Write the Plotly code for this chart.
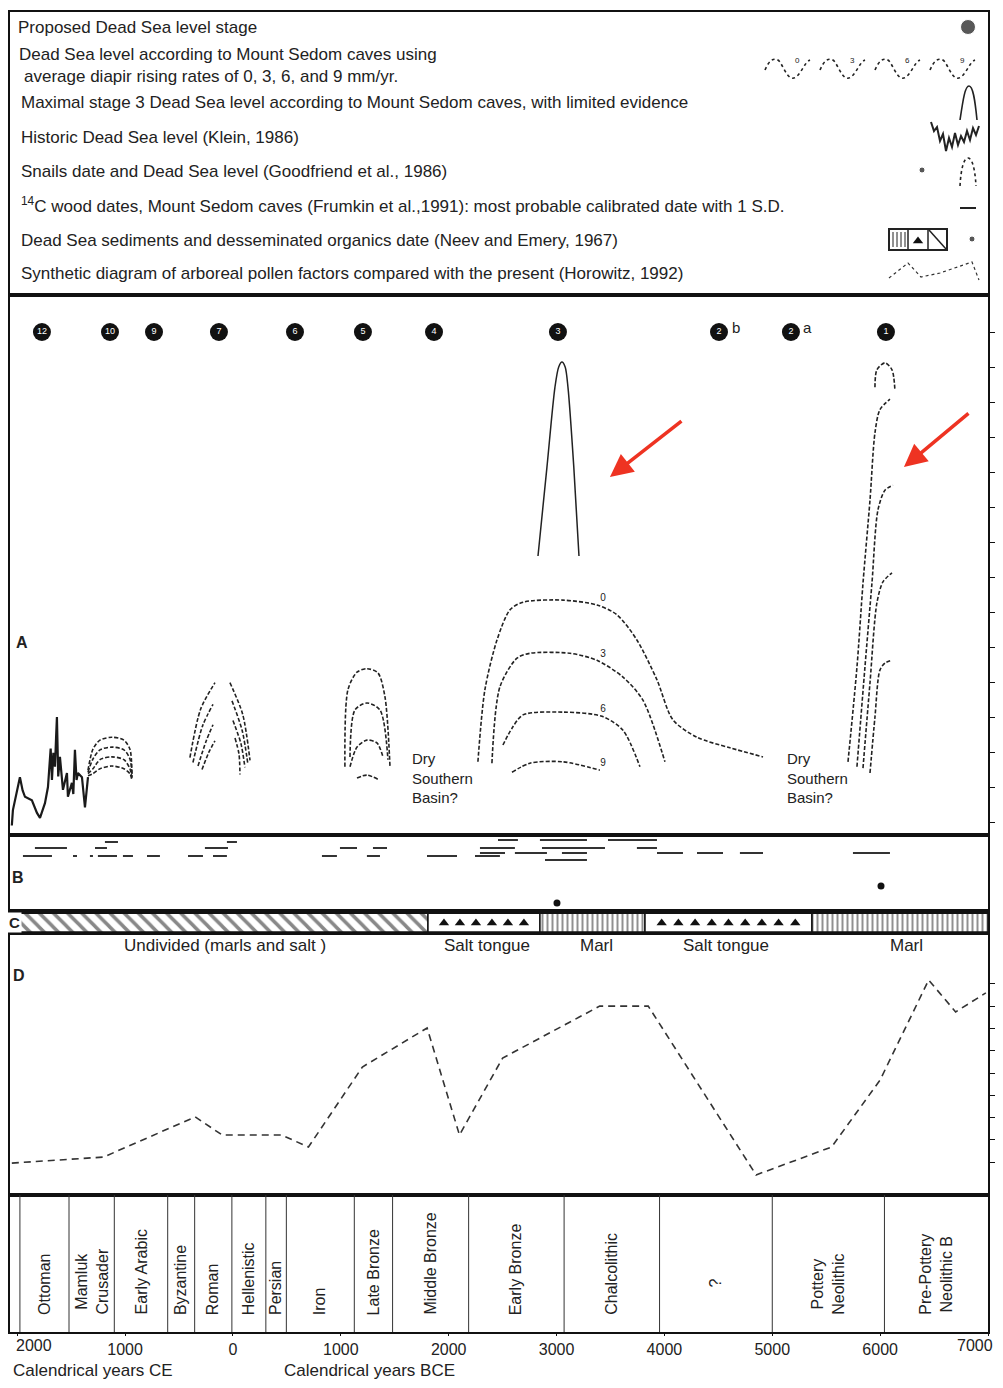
import numpy as np
import plotly.graph_objects as go

# ---------------- data (x = calendar year, BCE positive, CE negative) ----------------
X_RANGE = [-2067, 7000]
TICK_VALS = [-2000, -1000, 0, 1000, 2000, 3000, 4000, 5000, 6000, 7000]
TICK_TEXT = ["2000", "1000", "0", "1000", "2000", "3000", "4000", "5000", "6000", "7000"]

# Panel A: lake level (relative units)
STAGE_YEARS = [-1771, -1140, -732, -130, 575, 1205, 1864, 3013, 4506, 5173, 6054]
STAGE_LABELS = ["12", "10", "9", "7", "6", "5", "4", "3", "2", "2", "1"]
STAGE_SUFFIX = ["", "", "", "", "", "", "", "", "b", "a", ""]
STAGE_LEVEL = 70

HIST_YEAR = [-2050, -2040, -1975, -1950, -1928, -1864, -1817, -1789, -1743, -1715, -1690, -1678,
             -1665, -1650, -1640, -1632, -1620, -1604, -1576, -1539, -1530, -1493, -1480, -1465,
             -1450, -1437, -1400, -1372, -1344]
HIST_LEVEL = [-0.5, 1.7, 6.4, 4.5, 3.6, 3.1, 1.3, 0.6, 2.7, 5.0, 10.5, 6.0, 9.9, 7.9, 12.0, 15.0,
              6.5, 9.3, 4.6, 7.0, 3.6, 5.6, 4.0, 10.3, 6.0, 7.0, 6.4, 2.1, 6.4]

G1_YEAR = [-1344, -1298, -1233, -1122, -1011, -955, -936]
G1_LEVELS = {
    0: [7.4, 10.4, 11.7, 12.1, 11.7, 10.4, 6.7],
    3: [7.1, 9.0, 10.3, 10.7, 10.3, 9.0, 6.4],
    6: [6.9, 7.6, 8.9, 9.3, 8.9, 7.6, 6.1],
    9: [6.6, 6.9, 7.6, 8.0, 7.6, 6.9, 5.9],
}

G2_LEFT = {
    0: ([-399, -300, -167], [9.2, 16.1, 19.9]),
    3: ([-371, -280, -185], [8.5, 13.8, 16.8]),
    6: ([-324, -250, -185], [8.0, 11.5, 13.9]),
    9: ([-287, -225, -167], [7.5, 9.9, 11.6]),
}
G2_RIGHT = {
    0: ([-28, 90, 158], [19.9, 15.4, 8.8]),
    3: ([-9, 85, 139], [17.3, 13.1, 8.2]),
    6: ([0, 74, 111], [14.5, 11.2, 7.8]),
    9: ([19, 56, 65], [12.0, 9.7, 6.8]),
}

G3 = {
    0: ([1038, 1066, 1150, 1242, 1344, 1409, 1456], [7.9, 18.9, 21.4, 21.9, 21.3, 17.9, 7.9]),
    3: ([1085, 1131, 1242, 1363, 1437], [9.3, 16.0, 17.0, 16.0, 8.9]),
    6: ([1085, 1150, 1242, 1335, 1391], [7.9, 10.7, 11.7, 11.3, 9.3]),
    9: ([1150, 1242, 1344], [6.3, 6.7, 6.1]),
}

S3 = {
    0: ([2271, 2336, 2448, 2568, 2689, 3059, 3375, 3560, 3745, 3931, 4079, 4302, 4608, 4914],
        [8.6, 18.9, 26.0, 30.3, 31.4, 31.7, 31.0, 29.6, 26.0, 20.3, 14.6, 12.1, 10.6, 9.3]),
    3: ([2401, 2475, 2633, 2753, 3124, 3375, 3616, 3801, 4005],
        [8.4, 19.3, 23.4, 24.1, 24.1, 23.1, 20.7, 17.4, 8.6]),
    6: ([2503, 2587, 2689, 3059, 3421, 3616, 3773],
        [11.0, 13.4, 15.3, 15.7, 15.1, 13.1, 7.9]),
    9: ([2587, 2753, 3059, 3402], [7.1, 8.4, 8.6, 7.4]),
}
S3_LABEL_YEAR = 3430
S3_LABEL_LEVEL = [31.9, 23.9, 16.1, 8.4]
S3_MAX_YEAR = [2828, 2911, 2985, 3020, 3050, 3080, 3106, 3160, 3208]
S3_MAX_LEVEL = [38.0, 50.7, 62.1, 65.0, 65.7, 65.0, 62.1, 50.7, 38.0]

S1 = {
    0: ([5702, 5785, 5841, 5906, 5952, 5998, 6091], [8.6, 22.1, 34.1, 46.0, 55.6, 58.9, 60.4]),
    3: ([5785, 5859, 5924, 5980, 6045, 6119], [7.9, 22.1, 34.1, 44.6, 47.4, 48.1]),
    6: ([5841, 5906, 5970, 6026, 6110], [7.7, 19.9, 31.3, 34.3, 35.6]),
    9: ([5906, 5952, 5998, 6045, 6110], [7.0, 15.0, 21.7, 22.7, 23.1]),
}
S1_CAP_YEAR = [5952, 5970, 6045, 6110, 6137]
S1_CAP_LEVEL = [62.1, 64.6, 65.6, 64.6, 61.7]

DRY_YEARS = [1641, 5118]

# Panel B: 14C wood dates (start, end, row) and Neev & Emery dates
B_SEGMENTS = [
    (2457, 2642, 72), (2846, 3282, 72), (3477, 3931, 72),
    (-1187, -1066, 70), (-56, 37, 70),
    (-1836, -1539, 64), (-1279, -1168, 64), (-260, -46, 64), (992, 1150, 64), (1298, 1428, 64),
    (2290, 2614, 64), (2865, 3449, 64), (3745, 3931, 64),
    (2290, 2522, 59), (2614, 2911, 59), (3050, 3282, 59), (3931, 4172, 59), (4302, 4543, 59),
    (4700, 4914, 59), (5748, 6091, 59),
    (-1947, -1678, 56), (-1483, -1446, 56), (-1326, -1298, 56), (-1252, -1075, 56), (-1020, -927, 56),
    (-797, -677, 56), (-417, -278, 56), (-185, -56, 56), (825, 964, 56), (1242, 1363, 56),
    (1799, 2077, 56), (2244, 2475, 56),
    (2893, 3282, 52),
]
B_DOT_YEAR = [3004, 6008]
B_DOT_Y = [9, 26]

# Panel C: stratigraphy
STRAT_START = [-2067, 1808, 2846, 3820, 5368]
STRAT_END = [1808, 2846, 3820, 5368, 7000]
STRAT_TYPE = ["undivided", "salt", "marl", "salt", "marl"]
STRAT_LABELS = ["Undivided (marls and salt )", "Salt tongue", "Marl", "Salt tongue", "Marl"]
STRAT_LABEL_YEAR = [-74, 2355, 3375, 4571, 6240]
SALT_TRIANGLES = [None, 6, None, 9, None]

# Panel D: arboreal pollen
POLLEN_YEAR = [-2050, -1200, -350, -100, 450, 700, 1200, 1800, 2100, 2500, 3400, 3850, 4850, 5550,
               6000, 6450, 6700, 6980]
POLLEN_VALUE = [0.96, 1.23, 3.03, 2.22, 2.22, 1.68, 5.27, 7.02, 2.22, 5.67, 8.0, 8.0, 0.43, 1.68,
                4.69, 9.17, 7.74, 8.59]

# Cultural periods
PERIOD_BOUNDS = [-1975, -1520, -1100, -605, -355, -10, 305, 495, 1125, 1480, 2185, 3070, 3955, 5000, 6040, 7000]
PERIOD_NAMES = ["Ottoman", "Mamluk<br>Crusader", "Early Arabic", "Byzantine", "Roman", "Hellenistic",
                "Persian", "Iron", "Late Bronze", "Middle Bronze", "Early Bronze", "Chalcolithic", "?",
                "Pottery<br>Neolithic", "Pre-Pottery<br>Neolithic B"]

LEGEND_TEXT = [
    (16, 27, "Proposed Dead Sea level stage"),
    (17, 54, "Dead Sea level according to Mount Sedom caves using"),
    (22, 76, "average diapir rising rates of 0, 3, 6, and 9 mm/yr."),
    (19, 102, "Maximal stage 3 Dead Sea level according to Mount Sedom caves, with limited evidence"),
    (19, 137, "Historic Dead Sea level (Klein, 1986)"),
    (19, 171, "Snails date and Dead Sea level (Goodfriend et al., 1986)"),
    (19, 205, "<sup>14</sup>C wood dates, Mount Sedom caves (Frumkin et al.,1991): most probable calibrated date with 1 S.D."),
    (19, 240, "Dead Sea sediments and desseminated organics date (Neev and Emery, 1967)"),
    (19, 273, "Synthetic diagram of arboreal pollen factors compared with the present (Horowitz, 1992)"),
]

# ---------------- layout helpers ----------------
# the page adds an 8px body margin, so the figure is 987x1372 placed at (8, 8)
W, H = 987, 1372
MT, MB, ML, MR = 4, 48, 2, 7
PH = H - MT - MB


def ypap(py):  # py: pixel row in the 1003x1388 page
    return (1332 - py) / PH


INK = "#222222"
FONT = "Liberation Sans, Arial, sans-serif"
DASH = "4px,2px"

fig = go.Figure()


def curve(x, y, xa="x5", ya="y5", dash=DASH, width=1.6, shape="spline", color=INK):
    fig.add_trace(go.Scatter(x=x, y=y, mode="lines",
                             line=dict(color=color, width=width, dash=dash, shape=shape, smoothing=0.8),
                             xaxis=xa, yaxis=ya, showlegend=False, hoverinfo="skip"))


# ---- Panel A ----
curve(HIST_YEAR, HIST_LEVEL, dash="solid", width=2.2, shape="linear", color="#1a1a1a")
for r in (0, 3, 6, 9):
    curve(G1_YEAR, G1_LEVELS[r])
    curve(*G2_LEFT[r])
    curve(*G2_RIGHT[r])
    curve(*G3[r])
    curve(*S3[r])
    curve(*S1[r])
curve(S3_MAX_YEAR, S3_MAX_LEVEL, dash="solid", width=1.5)
curve(S1_CAP_YEAR, S1_CAP_LEVEL)

fig.add_trace(go.Scatter(x=[S3_LABEL_YEAR] * 4, y=S3_LABEL_LEVEL,
                         mode="text", text=["0", "3", "6", "9"], textposition="middle center",
                         textfont=dict(size=10, color=INK, family=FONT),
                         xaxis="x5", yaxis="y5", showlegend=False, hoverinfo="skip"))

fig.add_trace(go.Scatter(x=STAGE_YEARS, y=[STAGE_LEVEL] * len(STAGE_YEARS), mode="markers+text",
                         marker=dict(size=18, color="#111111"), text=STAGE_LABELS,
                         textfont=dict(size=9, color="white", family=FONT),
                         textposition="middle center",
                         xaxis="x5", yaxis="y5", showlegend=False, hoverinfo="skip"))

annotations = []
for yr, suf in zip(STAGE_YEARS, STAGE_SUFFIX):
    if suf:
        annotations.append(dict(x=yr, y=STAGE_LEVEL + 0.6, xref="x5", yref="y5", text=suf, showarrow=False,
                                xshift=17, font=dict(size=15, color=INK, family=FONT)))
for yr in DRY_YEARS:
    annotations.append(dict(x=yr, y=6.3, xref="x5", yref="y5", text="Dry<br>Southern<br>Basin?",
                            showarrow=False, xanchor="left", align="left",
                            font=dict(size=15, color=INK, family=FONT)))
annotations.append(dict(x=-1956, y=25.7, xref="x5", yref="y5", text="<b>A</b>", showarrow=False,
                        font=dict(size=16, color=INK, family=FONT)))
# red arrows
annotations.append(dict(x=3495, y=49.3, xref="x5", yref="y5", text="", showarrow=True, ax=73, ay=-57,
                        arrowhead=2, arrowsize=1.3, arrowwidth=3.5, arrowcolor="#ee3322"))
annotations.append(dict(x=6221, y=50.7, xref="x5", yref="y5", text="", showarrow=True, ax=66, ay=-55,
                        arrowhead=2, arrowsize=1.3, arrowwidth=3.5, arrowcolor="#ee3322"))

# ---- Panel B ----
bx, by = [], []
for s, e, row in B_SEGMENTS:
    bx += [s, e, None]
    by += [row, row, None]
fig.add_trace(go.Scatter(x=bx, y=by, mode="lines", line=dict(color="#333333", width=2),
                         xaxis="x4", yaxis="y4", showlegend=False, hoverinfo="skip"))
fig.add_trace(go.Scatter(x=B_DOT_YEAR, y=B_DOT_Y, mode="markers", marker=dict(size=7, color="#111111"),
                         xaxis="x4", yaxis="y4", showlegend=False, hoverinfo="skip"))
annotations.append(dict(x=-1993, y=35, xref="x4", yref="y4", text="<b>B</b>", showarrow=False,
                        font=dict(size=16, color=INK, family=FONT)))

# ---- Panel C ----
for s, e, t, ntri in zip(STRAT_START, STRAT_END, STRAT_TYPE, SALT_TRIANGLES):
    if t == "undivided":
        pat = dict(shape="\\", fgcolor="#111111", bgcolor="white", size=10, solidity=0.35)
    elif t == "marl":
        pat = dict(shape="|", fgcolor="#222222", bgcolor="white", size=5, solidity=0.4)
    else:
        pat = dict(shape="", bgcolor="white")
    fig.add_trace(go.Bar(x=[e - s], base=[s], y=[0.5], width=[1], orientation="h",
                         marker=dict(color="white", pattern=pat, line=dict(color="#111111", width=1.5)),
                         xaxis="x3", yaxis="y3", showlegend=False, hoverinfo="skip"))
    if t == "salt" and ntri:
        tx = np.linspace(s, e, ntri + 2)[1:-1]
        fig.add_trace(go.Scatter(x=tx, y=[0.45] * len(tx), mode="markers",
                                 marker=dict(symbol="triangle-up", size=9, color="#111111"),
                                 xaxis="x3", yaxis="y3", showlegend=False, hoverinfo="skip"))
annotations.append(dict(x=-2025, y=0.5, xref="x3", yref="y3", text="<b>C</b>", showarrow=False,
                        bgcolor="white", font=dict(size=15, color=INK, family=FONT)))

# ---- Panel D ----
fig.add_trace(go.Scatter(x=POLLEN_YEAR, y=POLLEN_VALUE, mode="lines",
                         line=dict(color="#333333", width=1.6, dash="7px,5px"),
                         xaxis="x2", yaxis="y2", showlegend=False, hoverinfo="skip"))
for lbl, yr in zip(STRAT_LABELS, STRAT_LABEL_YEAR):
    annotations.append(dict(x=yr, y=10.7, xref="x2", yref="y2", text=lbl, showarrow=False,
                            font=dict(size=17, color=INK, family=FONT)))
annotations.append(dict(x=-1984, y=9.39, xref="x2", yref="y2", text="<b>D</b>", showarrow=False,
                        font=dict(size=16, color=INK, family=FONT)))

# ---- Periods ----
shapes = []
for b in PERIOD_BOUNDS[:-1]:
    shapes.append(dict(type="line", xref="x", yref="y", x0=b, x1=b, y0=0, y1=1,
                       line=dict(color="#333333", width=1)))
for i, name in enumerate(PERIOD_NAMES):
    mid = (PERIOD_BOUNDS[i] + PERIOD_BOUNDS[i + 1]) / 2
    if name == "?":
        annotations.append(dict(x=mid, y=0.36, xref="x", yref="y", text=name, textangle=-90,
                                showarrow=False, font=dict(size=16, color=INK, family=FONT)))
    else:
        annotations.append(dict(x=mid, y=0.11, xref="x", yref="y", text=name, textangle=-90,
                                yanchor="bottom", showarrow=False, align="center",
                                font=dict(size=16, color=INK, family=FONT)))

# end tick labels that sit on the figure edge (drawn as annotations, kept inside the page)
shown_text = list(TICK_TEXT)
for idx, anchor, shift in ((0, "left", -3), (len(TICK_VALS) - 1, "right", 7)):
    annotations.append(dict(x=TICK_VALS[idx], y=ypap(1346), xref="x", yref="paper", yanchor="middle",
                            xanchor=anchor, xshift=shift, text=TICK_TEXT[idx], showarrow=False,
                            font=dict(size=16, color=INK, family=FONT)))
    shown_text[idx] = ""

# axis titles
annotations.append(dict(x=-1300, y=ypap(1370), xref="x", yref="paper", yanchor="middle",
                        text="Calendrical years CE",
                        showarrow=False, font=dict(size=17, color=INK, family=FONT)))
annotations.append(dict(x=1270, y=ypap(1370), xref="x", yref="paper", yanchor="middle",
                        text="Calendrical years BCE",
                        showarrow=False, font=dict(size=17, color=INK, family=FONT)))

# ---- Legend box (axes x6/y6 in picture units) ----
for x, y, t in LEGEND_TEXT:
    annotations.append(dict(x=x, y=y, xref="x6", yref="y6", text=t, xanchor="left", showarrow=False,
                            font=dict(size=17, color=INK, family=FONT)))
LINE = dict(color=INK, width=1.6)
DLINE = dict(color=INK, width=1.6, dash="dot")
for o, lab in zip([765, 820, 875, 930], ["0", "3", "6", "9"]):
    shapes.append(dict(type="path", xref="x6", yref="y6",
                       path=f"M {o},70 C {o+4},60 {o+10},56 {o+15},62 C {o+20},70 {o+24},82 {o+31},77 "
                            f"C {o+37},72 {o+40},62 {o+45},60", line=DLINE))
    annotations.append(dict(x=o + 32, y=60, xref="x6", yref="y6", text=lab, showarrow=False,
                            font=dict(size=8, color=INK, family=FONT)))
shapes.append(dict(type="path", xref="x6", yref="y6",
                   path="M 960,120 C 963,100 965,86 969,86 C 973,86 975,100 977,120", line=LINE))
shapes.append(dict(type="path", xref="x6", yref="y6",
                   path="M 931,122 L 934,131 L 937,127 L 940,141 L 943,134 L 946,151 L 949,138 L 952,147 "
                        "L 955,133 L 958,145 L 961,136 L 964,142 L 967,131 L 970,140 L 973,128 L 976,135 L 979,126",
                   line=dict(color=INK, width=2)))
shapes.append(dict(type="path", xref="x6", yref="y6",
                   path="M 960,186 C 961,168 964,158 968,158 C 972,158 975,168 976,186", line=DLINE))
shapes.append(dict(type="line", xref="x6", yref="y6", x0=960, x1=976, y0=208, y1=208,
                   line=dict(color=INK, width=2)))
shapes.append(dict(type="rect", xref="x6", yref="y6", x0=889, x1=947, y0=229, y1=250,
                   line=dict(color=INK, width=2)))
for xx in (908, 928):
    shapes.append(dict(type="line", xref="x6", yref="y6", x0=xx, x1=xx, y0=229, y1=250,
                       line=dict(color=INK, width=1.5)))
for xx in (893, 897, 901, 905):
    shapes.append(dict(type="line", xref="x6", yref="y6", x0=xx, x1=xx, y0=232, y1=247,
                       line=dict(color=INK, width=1)))
shapes.append(dict(type="line", xref="x6", yref="y6", x0=929, x1=946, y0=230, y1=249,
                   line=dict(color=INK, width=1.5)))
shapes.append(dict(type="path", xref="x6", yref="y6",
                   path="M 889,278 L 908,263 L 921,277 L 940,273 L 972,262 L 979,280",
                   line=dict(color="#333333", width=1.2, dash="dot")))
fig.add_trace(go.Scatter(x=[968, 922, 972], y=[27, 170, 239], mode="markers",
                         marker=dict(size=[15, 6, 6], color="#111111"),
                         xaxis="x6", yaxis="y6", showlegend=False, hoverinfo="skip"))
fig.add_trace(go.Scatter(x=[918], y=[241], mode="markers",
                         marker=dict(symbol="triangle-up", size=9, color="#111111"),
                         xaxis="x6", yaxis="y6", showlegend=False, hoverinfo="skip"))

# ---------------- axes ----------------
FRAME = dict(showline=True, mirror=True, linecolor="#111111", linewidth=2, showgrid=False, zeroline=False)
DOM = {
    "P": [0, ypap(1195)],
    "D": [ypap(1195), ypap(932)],
    "C": [ypap(932), ypap(912)],
    "B": [ypap(912), ypap(835)],
    "A": [ypap(835), ypap(295)],
    "L": [ypap(295), 1],
}

layout = dict(
    width=W, height=H, margin=dict(l=ML, r=MR, t=MT, b=MB, autoexpand=False),
    paper_bgcolor="white", plot_bgcolor="white", showlegend=False, barmode="overlay",
    font=dict(family=FONT, color=INK),
    xaxis=dict(domain=[0, 1], range=X_RANGE, anchor="y", tickvals=TICK_VALS, ticktext=shown_text,
               ticks="outside", ticklen=2, tickcolor="#111111", automargin=False,
               tickfont=dict(size=16, color=INK, family=FONT),
               **FRAME),
    yaxis=dict(domain=DOM["P"], range=[0, 1], showticklabels=False, ticks="", **FRAME),
    xaxis2=dict(domain=[0, 1], matches="x", anchor="y2", showticklabels=False, ticks="", **FRAME),
    yaxis2=dict(domain=DOM["D"], range=[-0.471, 11.323], tickvals=list(range(1, 10)), ticks="outside",
                ticklen=5, showticklabels=False, tickcolor="#111111",
                **{**FRAME, "mirror": "allticks"}),
    xaxis3=dict(domain=[0, 1], matches="x", anchor="y3", showticklabels=False, ticks="",
                **{**FRAME, "linewidth": 3}),
    yaxis3=dict(domain=DOM["C"], range=[0, 1], showticklabels=False, ticks="", **FRAME),
    xaxis4=dict(domain=[0, 1], matches="x", anchor="y4", showticklabels=False, ticks="", **FRAME),
    yaxis4=dict(domain=DOM["B"], range=[0, 77], showticklabels=False, ticks="", **FRAME),
    xaxis5=dict(domain=[0, 1], matches="x", anchor="y5", showticklabels=False, ticks="", **FRAME),
    yaxis5=dict(domain=DOM["A"], range=[-1.857, 75.286], tickvals=list(range(0, 75, 5)), ticks="outside",
                ticklen=5, showticklabels=False, tickcolor="#111111",
                **{**FRAME, "mirror": "allticks"}),
    xaxis6=dict(domain=[0, 1], range=[10, 988], anchor="y6", showticklabels=False, ticks="", **FRAME),
    yaxis6=dict(domain=DOM["L"], range=[295, 12], showticklabels=False, ticks="", **FRAME),
    annotations=annotations,
    shapes=shapes,
)
fig.update_layout(**layout)
fig.write_html("out.html")
